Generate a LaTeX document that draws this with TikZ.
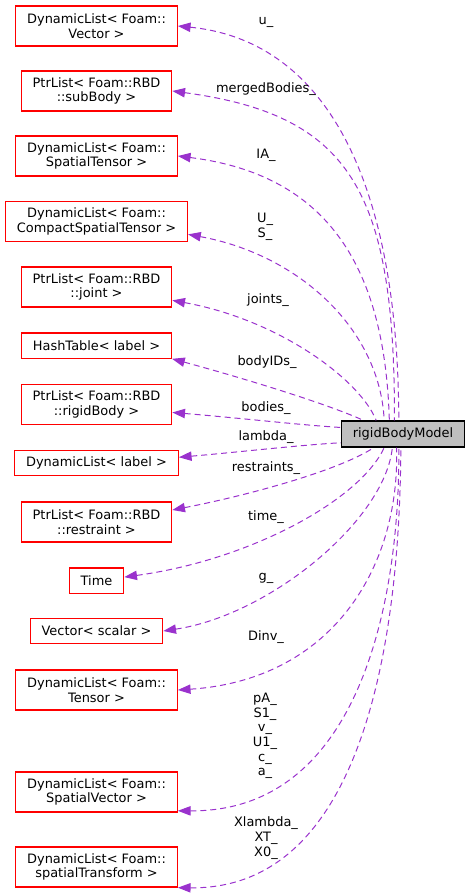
\documentclass[tikz,border=0pt]{standalone}
\usepackage{fontspec}
\setmainfont{DejaVu Sans}
\usetikzlibrary{arrows.meta}
\definecolor{edgepurple}{HTML}{9A32CD}
\definecolor{modelgray}{HTML}{BFBFBF}
\definecolor{boxred}{HTML}{FF0000}
\newcommand{\dfont}{\fontsize{9.7}{11}\selectfont}

\begin{document}
\begin{tikzpicture}[x=0.75pt,y=-0.75pt,line width=0.75pt,
  member/.style={draw=boxred, line width=1pt, fill=white, align=center, inner xsep=8.5pt, inner ysep=0pt, minimum height=19pt, font=\dfont},
  membertwo/.style={member, minimum height=30pt},
  model/.style={draw=black, line width=1pt, fill=modelgray, inner xsep=8.5pt, inner ysep=0pt, minimum height=19.5pt, font=\dfont},
  uses/.style={draw=edgepurple, dash pattern=on 4.5pt off 3pt, {Triangle[length=9.5pt,width=7pt]}-},
  lab/.style={font=\dfont, align=center, inner sep=0pt}]
\useasboundingbox (0,0) rectangle (471,896);
% member types on the left
\node[membertwo] (vecu) at (96.5,26) {DynamicList< Foam::\\Vector >};
\node[membertwo] (subbody) at (96.5,91) {PtrList< Foam::RBD\\::subBody >};
\node[membertwo] (sptensor) at (96.5,156) {DynamicList< Foam::\\SpatialTensor >};
\node[membertwo] (cstensor) at (96.5,221.5) {DynamicList< Foam::\\CompactSpatialTensor >};
\node[membertwo] (joint) at (96.5,287) {PtrList< Foam::RBD\\::joint >};
\node[member] (hashtable) at (96.5,345.5) {HashTable< label >};
\node[membertwo] (rigidbody) at (96.5,404.5) {PtrList< Foam::RBD\\::rigidBody >};
\node[member] (dlabel) at (96.5,463) {DynamicList< label >};
\node[membertwo] (restraint) at (96.5,522) {PtrList< Foam::RBD\\::restraint >};
\node[member] (time) at (96.5,580.5) {Time};
\node[member] (vscalar) at (96.5,631) {Vector< scalar >};
\node[membertwo] (tensor) at (96.5,690) {DynamicList< Foam::\\Tensor >};
\node[membertwo] (spvector) at (96.5,792) {DynamicList< Foam::\\SpatialVector >};
\node[membertwo] (sptrans) at (96.5,867) {DynamicList< Foam::\\spatialTransform >};
% the class itself
\node[model] (model) at (403,434) {rigidBodyModel};
% usage edges
\draw[uses] (vecu.east) .. controls (320,40) and (398,170) .. (model.107);
\draw[uses] (subbody.east) .. controls (350,115) and (395,190) .. (model.122);
\draw[uses] (sptensor.east) .. controls (330,175) and (385,270) .. (model.135);
\draw[uses] (cstensor.-8) .. controls (300,255) and (380,330) .. (model.144);
\draw[uses] (joint.-10) .. controls (280,320) and (360,380) .. (model.153);
\draw[uses] (hashtable.-10) .. controls (250,380) and (330,405) .. (model.161);
\draw[uses] (rigidbody.-6) .. controls (240,418) and (300,425) .. (model.174);
\draw[uses] (dlabel.4) .. controls (240,452) and (300,445) .. (model.188);
\draw[uses] (restraint.9) .. controls (250,495) and (340,470) .. (model.205);
\draw[uses] (time.7) .. controls (250,560) and (360,500) .. (model.216);
\draw[uses] (vscalar.east) .. controls (270,615) and (385,520) .. (model.232);
\draw[uses] (tensor.east) .. controls (330,680) and (400,570) .. (model.245);
\draw[uses] (spvector.-13) .. controls (360,812) and (400,600) .. (model.253);
\draw[uses] (sptrans.south east) .. controls (370,890) and (400,620) .. (model.261);
% member names
\node[lab] (lu) at (266,22) {u\_};
\node[lab] (lmerged) at (266,89) {mergedBodies\_};
\node[lab] (lia) at (266,155) {IA\_};
\node[lab] (lus) at (265,226.5) {U\_\\S\_};
\node[lab] (ljoints) at (268,300) {joints\_};
\node[lab] (lbodyids) at (267,362) {bodyIDs\_};
\node[lab] (lbodies) at (266,408) {bodies\_};
\node[lab] (llambda) at (266,437) {lambda\_};
\node[lab] (lrestr) at (266,468) {restraints\_};
\node[lab] (ltime) at (266,517) {time\_};
\node[lab] (lg) at (266,578) {g\_};
\node[lab] (ldinv) at (266,637) {Dinv\_};
\node[lab] (lpa) at (265,736) {pA\_\\S1\_\\v\_\\U1\_\\c\_\\a\_};
\node[lab] (lxl) at (266,838) {Xlambda\_\\XT\_\\X0\_};
\end{tikzpicture}
\end{document}
